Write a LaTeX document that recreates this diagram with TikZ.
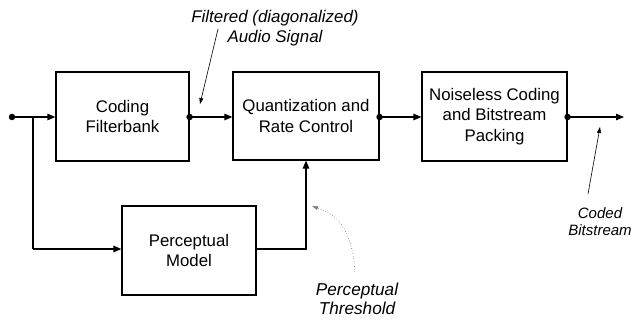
\documentclass[tikz,border=0pt]{standalone}
\usepackage{fontspec}
\setmainfont{Liberation Sans}
\usetikzlibrary{arrows.meta}
\tikzset{
  block/.style={draw, line width=1.2pt, inner sep=0pt, align=center,
    font=\fontsize{16.8}{20.5}\selectfont},
  flow/.style={line width=1.2pt, -{Triangle[length=8pt,width=6.5pt]}},
  tap/.style={fill, circle, inner sep=0pt, minimum size=6.5pt},
  note/.style={align=center, font=\fontsize{16.9}{19.5}\selectfont\itshape},
  pointer/.style={line width=0.6pt, -{Triangle[length=6pt,width=4pt]}},
}
\begin{document}
\begin{tikzpicture}[x=1pt, y=-1pt]
  \useasboundingbox (0,0) rectangle (631,320);

  % processing blocks
  \node[block, minimum width=133pt, minimum height=89pt] (cf) at (122.5,116.5) {Coding\\Filterbank};
  \node[block, minimum width=146pt, minimum height=88pt] (qr) at (306,116) {Quantization and\\Rate Control};
  \node[block, minimum width=145pt, minimum height=89pt] (nb) at (494.5,116.5) {Noiseless Coding\\and Bitstream\\Packing};
  \node[block, minimum width=134pt, minimum height=89pt] (pm) at (189,250.5) {Perceptual\\Model};

  % signal input, branch point and output end
  \coordinate (in) at (12,117);
  \coordinate (br) at (33,117);
  \coordinate (out) at (624,117);

  % main signal path
  \draw[flow] (in) -- (cf.west |- in);
  \draw[line width=1.2pt] (br) -- (33,249);
  \draw[flow] (33,249) -- (pm.west |- 0,249);
  \draw[flow] (cf.east |- in) -- (qr.west |- in);
  \draw[flow] (qr.east |- in) -- (nb.west |- in);
  \draw[flow] (nb.east |- in) -- (out);
  \draw[flow] (pm.east |- 0,249) -| (qr.south);

  % junction dots
  \node[tap] at (in) {};
  \node[tap] at (cf.east |- in) {};
  \node[tap] at (qr.east |- in) {};
  \node[tap] at (nb.east |- in) {};

  % annotations
  \node[note] (fa) at (275,28) {Filtered (diagonalized)\\Audio Signal};
  \node[note, font=\fontsize{15}{17}\selectfont\itshape] (cb) at (600,222) {Coded\\Bitstream};
  \node[note, font=\fontsize{17.2}{18.5}\selectfont\itshape] (pt) at (357,299) {Perceptual\\Threshold};

  \coordinate (faS) at (218,29);
  \coordinate (faE) at (200,104);
  \draw[pointer] (faS) -- (faE);

  \coordinate (cbS) at (588,194);
  \coordinate (cbE) at (600,127);
  \draw[pointer] (cbS) -- (cbE);

  \coordinate (ptS) at (355,272);
  \coordinate (ptE) at (312,206);
  \draw[pointer, gray, dotted, line width=0.7pt]
    (ptS) .. controls (352,232) and (340,216) .. (ptE);
\end{tikzpicture}
\end{document}
